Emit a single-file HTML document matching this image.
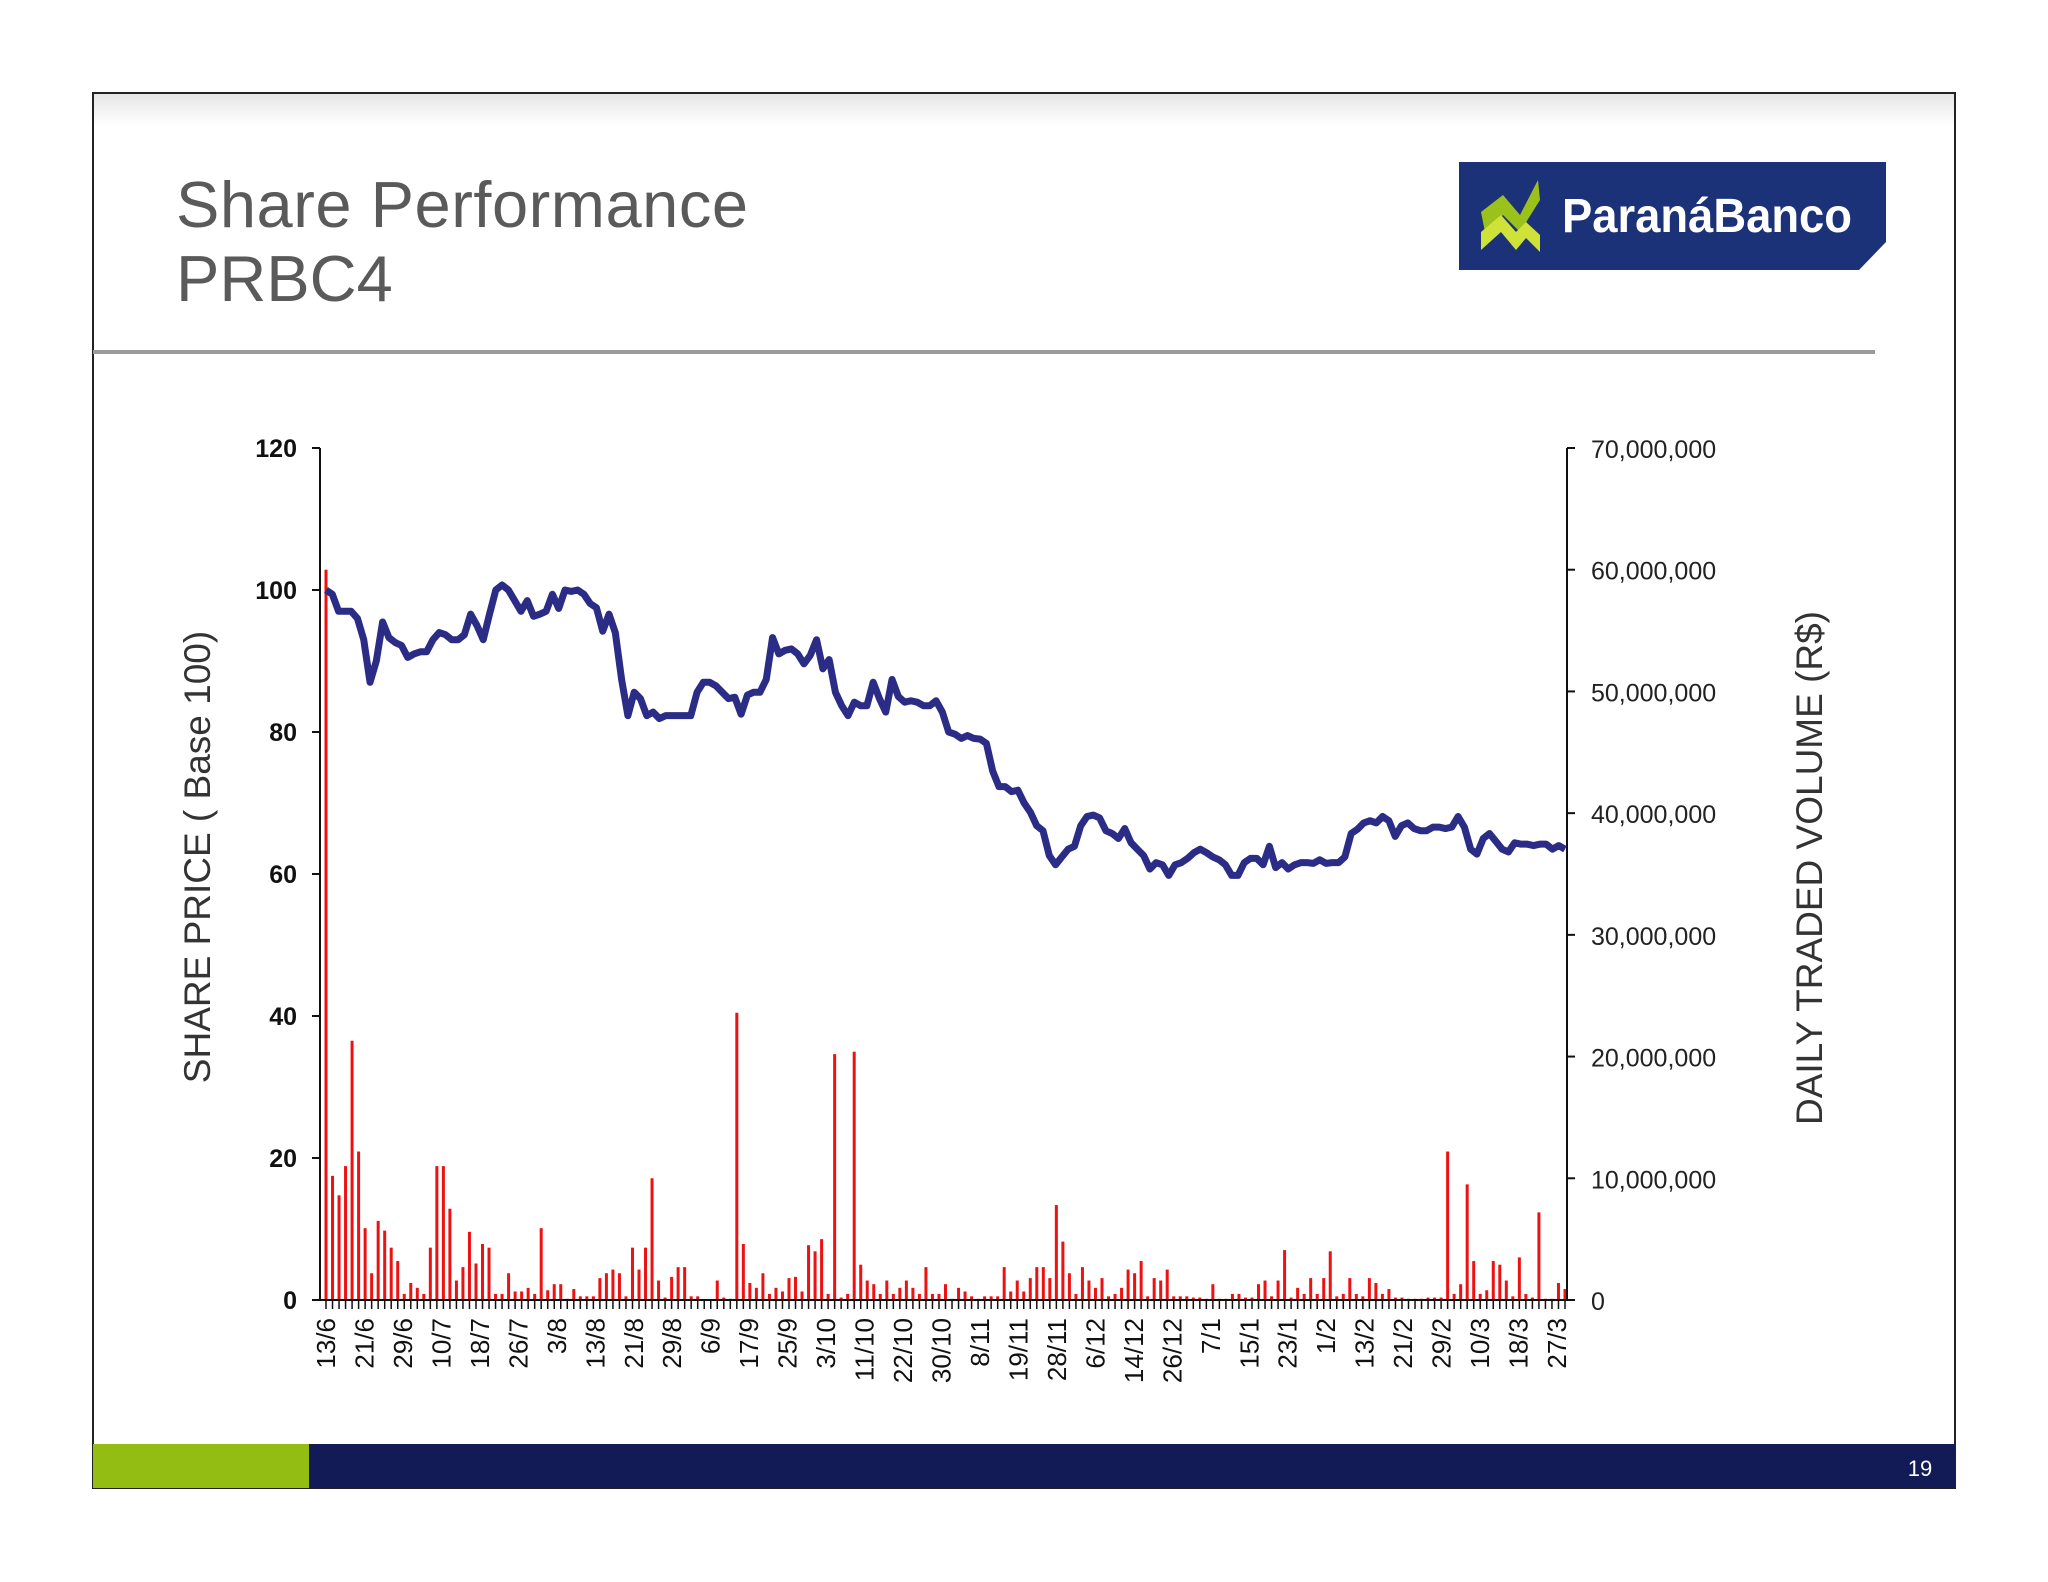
<!DOCTYPE html>
<html><head><meta charset="utf-8"><style>
html,body{margin:0;padding:0;background:#fff;}
svg{display:block;font-family:"Liberation Sans",sans-serif;}
</style></head><body>
<svg id="chart" width="2048" height="1582" viewBox="0 0 2048 1582" xmlns="http://www.w3.org/2000/svg">
<defs>
<linearGradient id="topg" x1="0" y1="0" x2="0" y2="1"><stop offset="0" stop-color="#e6e6e6"/><stop offset="1" stop-color="#fff"/></linearGradient>
</defs>
<rect x="93" y="93" width="1862" height="1395" fill="#fff" stroke="#222" stroke-width="2"/>
<rect x="94" y="94" width="1860" height="32" fill="url(#topg)"/>
<text x="176" y="227" font-size="65" fill="#5a5a5a" textLength="572">Share Performance</text>
<text x="176" y="301" font-size="65" fill="#5a5a5a">PRBC4</text>
<rect x="93" y="350" width="1782" height="4" fill="#999"/>
<g>
<path d="M1459,162 L1886,162 L1886,242 L1859,270 L1459,270 Z" fill="#1b3278"/>
<path d="M1481,212 L1503,195 L1520,215 L1538,180 L1540,200 L1520,232 L1503,215 L1485,232 Z" fill="#9bc21a"/>
<path d="M1481,250 L1481,232 L1501,215 L1516,232 L1526,222 L1540,235 L1540,252 L1526,238 L1516,250 L1501,232 Z" fill="#cfe23a"/>
<text x="1562" y="232" font-size="48" font-weight="bold" fill="#fff" textLength="290" lengthAdjust="spacingAndGlyphs">ParanáBanco</text>
</g>
<g id="plot"></g>
<text transform="translate(210,857) rotate(-90)" text-anchor="middle" font-size="37" fill="#333">SHARE PRICE ( Base 100)</text>
<text transform="translate(1822,868) rotate(-90)" text-anchor="middle" font-size="37" fill="#333">DAILY TRADED VOLUME (R$)</text>
<rect x="93" y="1444" width="216" height="44" fill="#94bd14"/>
<rect x="309" y="1444" width="1646" height="44" fill="#121b55"/>
<text x="1920" y="1476" text-anchor="middle" font-size="22" fill="#fff">19</text>
</svg>
<script>
const prices = [100,99.4,97,97,97,96,93,87,90,95.5,93.3,92.6,92.2,90.5,91,91.3,91.3,93,94,93.7,93,93,93.7,96.6,95,93,96.6,100,100.7,100,98.5,97,98.5,96.3,96.6,97,99.4,97.4,100,99.8,100,99.4,98.1,97.5,94.2,96.6,94,87.4,82.3,85.6,84.7,82.3,82.8,81.9,82.3,82.3,82.3,82.3,82.3,85.6,87,87,86.5,85.6,84.7,84.9,82.5,85.2,85.6,85.6,87.4,93.3,91,91.5,91.7,91,89.6,90.8,93,88.9,90.2,85.6,83.7,82.3,84.2,83.7,83.7,87,84.7,82.8,87.4,85,84.2,84.4,84.2,83.7,83.7,84.4,82.8,80,79.7,79.1,79.5,79.1,79,78.4,74.5,72.3,72.3,71.6,71.8,70,68.7,66.8,66.1,62.6,61.3,62.4,63.5,63.9,66.8,68.1,68.3,67.9,66.1,65.7,65,66.4,64.4,63.5,62.6,60.7,61.6,61.3,59.8,61.3,61.6,62.2,63,63.5,63,62.4,62,61.3,59.8,59.8,61.6,62.2,62.2,61.3,63.9,60.9,61.6,60.7,61.3,61.6,61.6,61.5,62,61.5,61.6,61.6,62.4,65.7,66.3,67.2,67.5,67.2,68.1,67.5,65.3,66.8,67.2,66.4,66.1,66.1,66.6,66.6,66.4,66.6,68.1,66.6,63.5,62.8,65,65.7,64.6,63.5,63.1,64.4,64.2,64.2,64,64.2,64.2,63.5,64,63.5];
const volumes = [60,10.2,8.6,11,21.3,12.2,5.9,2.2,6.5,5.7,4.3,3.2,0.5,1.4,1,0.5,4.3,11,11,7.5,1.6,2.7,5.6,3,4.6,4.3,0.5,0.5,2.2,0.7,0.7,1,0.5,5.9,0.8,1.3,1.3,0.1,0.9,0.3,0.3,0.3,1.8,2.2,2.5,2.2,0.3,4.3,2.5,4.3,10,1.6,0.2,1.9,2.7,2.7,0.3,0.3,0,0,1.6,0.2,0.1,23.6,4.6,1.4,1,2.2,0.5,1,0.7,1.8,1.9,0.7,4.5,4,5,0.5,20.2,0.2,0.5,20.4,2.9,1.6,1.3,0.5,1.6,0.5,1,1.6,1,0.5,2.7,0.5,0.5,1.3,0.1,1,0.7,0.3,0.1,0.3,0.3,0.3,2.7,0.7,1.6,0.7,1.8,2.7,2.7,1.8,7.8,4.8,2.2,0.5,2.7,1.6,1,1.8,0.3,0.5,1,2.5,2.2,3.2,0.3,1.8,1.6,2.5,0.3,0.3,0.3,0.2,0.2,0.1,1.3,0.1,0.1,0.5,0.5,0.2,0.2,1.3,1.6,0.3,1.6,4.1,0.2,1,0.5,1.8,0.5,1.8,4,0.3,0.5,1.8,0.5,0.3,1.8,1.4,0.5,0.9,0.2,0.2,0.1,0.1,0.1,0.2,0.2,0.2,12.2,0.5,1.3,9.5,3.2,0.5,0.8,3.2,2.9,1.6,0.3,3.5,0.5,0.2,7.2,0.1,0.1,1.4,0.9];
const dateLabels = ["13/6","21/6","29/6","10/7","18/7","26/7","3/8","13/8","21/8","29/8","6/9","17/9","25/9","3/10","11/10","22/10","30/10","8/11","19/11","28/11","6/12","14/12","26/12","7/1","15/1","23/1","1/2","13/2","21/2","29/2","10/3","18/3","27/3"];
const leftTicks = [0,20,40,60,80,100,120];
const rightTicks = [0,10,20,30,40,50,60,70];
const rightTickLabels = ["0","10,000,000","20,000,000","30,000,000","40,000,000","50,000,000","60,000,000","70,000,000"];

const L=320,R=1567,Y0=1300,YT=448,NS="http://www.w3.org/2000/svg";
const yP=v=>Y0-(v/120)*(Y0-YT);
const yV=v=>Y0-(v/70)*(Y0-YT);
const xP=i=>L+6+i*(R-L-8)/(prices.length-1);
const xV=i=>L+6+i*(R-L-8)/(volumes.length-1);
const xD=i=>L+6+i*(R-L-16)/(dateLabels.length-1);
const g=document.getElementById('plot');
function mk(t,a){const e=document.createElementNS(NS,t);for(const k in a)e.setAttribute(k,a[k]);g.appendChild(e);return e;}

volumes.forEach((v,i)=>{
  const b=mk('rect',{x:xV(i)-1.5,y:yV(v),width:3,height:Y0-yV(v),fill:'#ee1111'});
  
  
  const t=mk('line',{x1:xV(i),x2:xV(i),y1:Y0,y2:Y0+9,stroke:'#111','stroke-width':1.5});
  
  
});
const la=mk('line',{x1:L,x2:L,y1:YT,y2:Y0,stroke:'#111','stroke-width':2});


const ra=mk('line',{x1:R,x2:R,y1:YT,y2:Y0,stroke:'#111','stroke-width':2});


const xa=mk('line',{x1:L,x2:R+8,y1:Y0,y2:Y0,stroke:'#111','stroke-width':2});



leftTicks.forEach(v=>{
  mk('line',{x1:L-8,x2:L,y1:yP(v),y2:yP(v),stroke:'#111','stroke-width':2});
  const t=mk('text',{x:297,y:yP(v)+9,'text-anchor':'end','font-size':25,'font-weight':'bold',fill:'#111'});
  t.textContent=v;
  
  
});
rightTicks.forEach((v,i)=>{
  mk('line',{x1:R,x2:R+8,y1:yV(v),y2:yV(v),stroke:'#111','stroke-width':2});
  const t=mk('text',{x:1591,y:yV(v)+10,'font-size':25,fill:'#222'});
  t.textContent=rightTickLabels[i];
  
  
});
dateLabels.forEach((d,i)=>{
  const t=mk('text',{transform:`translate(${xD(i)+9},1318) rotate(-90)`,'text-anchor':'end','font-size':26,fill:'#111'});
  t.textContent=d;
  
  
});
const pl=mk('polyline',{points:prices.map((v,i)=>xP(i)+','+yP(v)).join(' '),fill:'none',stroke:'#2b2c86','stroke-width':7,'stroke-linejoin':'round'});


</script>
</body></html>
